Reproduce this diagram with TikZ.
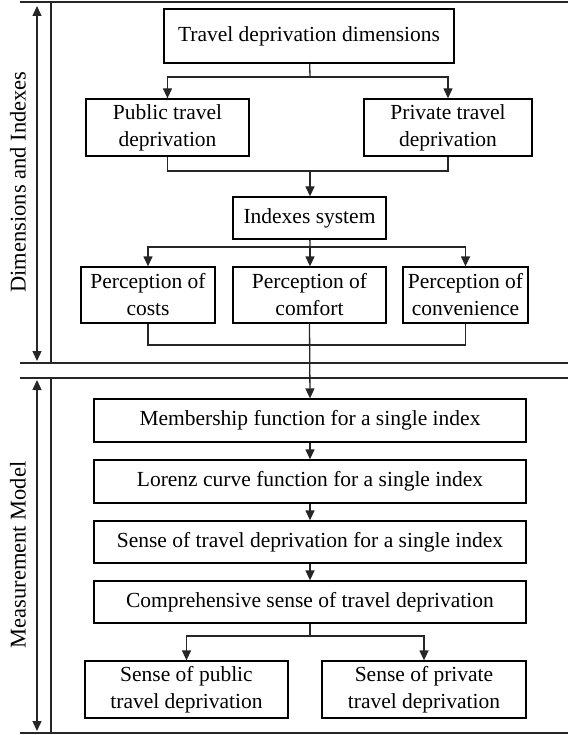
\documentclass[tikz,border=0pt]{standalone}
\usepackage{fontspec}
\setmainfont{Liberation Serif}
\usetikzlibrary{arrows.meta}

\begin{document}
\begin{tikzpicture}[x=1pt, y=-1pt, font=\fontsize{21.5}{27}\selectfont]
  \tikzset{
    box/.style={draw, line width=1.3pt, align=center, inner sep=0pt},
    ln/.style={line width=1.3pt, draw=black!85},
    arr/.style={ln, -{Triangle[length=10pt, width=9pt]}},
    darr/.style={ln, {Triangle[length=10pt, width=9pt]}-{Triangle[length=10pt, width=9pt]}}
  }
  \useasboundingbox (0,0) rectangle (568,735);

  % Rahmen
  \draw[ln] (20,2) -- (568,2);
  \draw[ln] (51,2) -- (51,363);
  \draw[ln] (20,363) -- (568,363);
  \draw[ln] (20,378) -- (568,378);
  \draw[ln] (51,378) -- (51,733);
  \draw[ln] (20,733) -- (568,733);

  % Zijlabels
  \draw[darr] (37,6) -- (37,361);
  \draw[darr] (37,380) -- (37,731);
  \node[rotate=90, font=\fontsize{22.5}{27}\selectfont] (lab1) at (18,182) {Dimensions and Indexes};
  \node[rotate=90, font=\fontsize{22.5}{27}\selectfont] (lab2) at (18,555) {Measurement Model};

  % --- Dimensies ---
  \node[box, minimum width=290pt, minimum height=54pt] (dims) at (309,36) {Travel deprivation dimensions};
  \node[box, minimum width=163pt, minimum height=57pt] (pub) at (167.5,127.5) {Public travel\\deprivation};
  \node[box, minimum width=168pt, minimum height=57pt] (priv) at (448,127.5) {Private travel\\deprivation};
  \coordinate (s1) at (310,77);
  \draw[ln] (dims) -- (s1);
  \draw[arr] (s1) -| (pub.north);
  \draw[arr] (s1) -| (priv.north);

  % --- Indexen ---
  \node[box, minimum width=153pt, minimum height=42pt] (idx) at (309.5,218) {Indexes system};
  \coordinate (m1) at (310,171);
  \draw[ln] (pub.south) |- (m1) -| (priv.south);
  \draw[arr] (m1) -- (m1 |- idx.north);

  \node[box, minimum width=134pt, minimum height=56pt] (costs) at (148,295) {Perception of\\costs};
  \node[box, minimum width=153pt, minimum height=56pt] (comf) at (309.5,295) {Perception of\\comfort};
  \node[box, minimum width=125pt, minimum height=56pt] (conv) at (465.5,295) {Perception of\\convenience};
  \coordinate (s2) at (310,247);
  \draw[ln] (idx) -- (s2);
  \draw[arr] (s2) -| (costs.north);
  \draw[arr] (s2) -- (s2 |- comf.north);
  \draw[arr] (s2) -| (conv.north);

  % --- Meetmodel ---
  \node[box, minimum width=432pt, minimum height=43pt] (memb) at (310,420.5) {Membership function for a single index};
  \node[box, minimum width=432pt, minimum height=43pt] (lor) at (310,481.5) {Lorenz curve function for a single index};
  \node[box, minimum width=432pt, minimum height=42pt] (sing) at (310,542) {Sense of travel deprivation for a single index};
  \node[box, minimum width=432pt, minimum height=42pt] (comp) at (310,602) {Comprehensive sense of travel deprivation};
  \coordinate (m2) at (310,345);
  \draw[ln] (costs.south) |- (m2) -| (conv.south);
  \draw[arr] (comf.south) -- (memb.north);
  \draw[arr] (memb) -- (lor);
  \draw[arr] (lor) -- (sing);
  \draw[arr] (sing) -- (comp);

  \node[box, minimum width=203pt, minimum height=57pt] (spub) at (186.5,689.5) {Sense of public\\travel deprivation};
  \node[box, minimum width=204pt, minimum height=57pt] (spriv) at (424,689.5) {Sense of private\\travel deprivation};
  \coordinate (s3) at (310,636);
  \draw[ln] (comp) -- (s3);
  \draw[arr] (s3) -| (spub.north);
  \draw[arr] (s3) -| (spriv.north);
\end{tikzpicture}
\end{document}
